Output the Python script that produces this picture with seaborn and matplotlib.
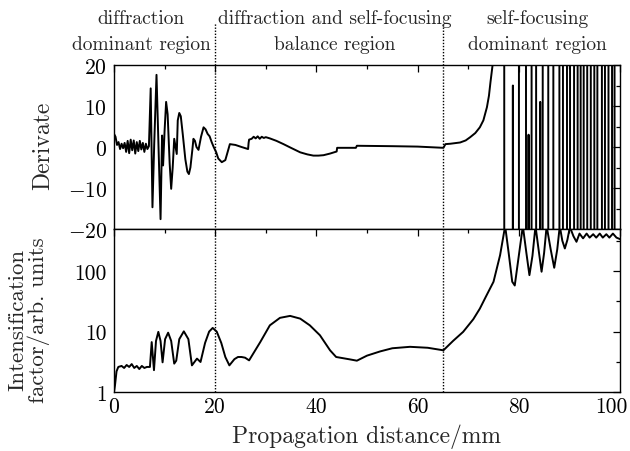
import numpy as np
import pandas as pd
import matplotlib
matplotlib.use("Agg")
import matplotlib.pyplot as plt
import matplotlib.ticker as mticker
import matplotlib.transforms as mtrans
import seaborn as sns

# ---------------- data ----------------
# Derivative of intensification factor (top panel); +/-200 = off scale
deriv_x = [0.0, 0.3, 0.6, 0.9, 1.2, 1.5, 1.8, 2.1, 2.4, 2.7, 3.0, 3.3, 3.6, 3.9, 4.2,
           4.5, 4.8, 5.1, 5.4, 5.7, 6.0, 6.3, 6.6, 6.9,
           7.25, 7.6, 7.95, 8.4, 9.2, 9.5, 9.7, 10.0, 10.3, 10.6, 11.0, 11.3, 11.6, 11.9,
           12.4, 12.6, 12.9, 13.2, 13.6, 14.1, 14.5, 14.8, 15.1, 15.5, 15.7, 16.0, 16.3,
           16.7, 17.2, 17.7, 18.1, 18.5, 18.9, 19.3, 19.7, 20.2, 20.6, 21.3, 22.0, 22.5,
           22.9, 24.0, 25.2, 26.5, 26.6, 26.7, 27.2, 27.6, 28.0, 28.4, 28.8, 29.2, 29.6,
           30.0, 30.8, 32.1, 33.5, 34.8, 36.8, 38.2, 39.4, 40.4, 41.4, 42.7, 44.0, 44.1,
           47.8, 48.0, 55.0, 60.0, 65.1, 65.5, 66.5, 68.4, 69.5, 70.4, 71.4, 72.3, 73.0,
           73.7, 74.1, 74.4, 74.8, 75.1, 75.6,
           77.10, 77.15, 78.80, 78.83, 78.86, 80.00, 80.05, 81.40, 81.45, 81.90, 81.93, 81.96,
           82.50, 82.55, 83.40, 83.45, 84.20, 84.23, 84.26, 84.70, 84.75, 85.80, 85.85,
           86.80, 86.85, 88.00, 88.05, 88.70, 88.75, 89.50, 89.55, 90.10, 90.15, 90.90, 90.95,
           91.60, 91.65, 92.20, 92.25, 92.80, 92.85, 93.50, 93.55, 94.20, 94.25, 94.90, 94.95,
           95.50, 95.55, 96.40, 96.45, 97.00, 97.05, 97.70, 97.75, 98.40, 98.45, 98.90, 98.95,
           100.0]
deriv_y = [3.2, 2.5, 0.5, 1.2, -0.5, 0.8, -0.3, 1.0, -1.2, 1.5, -1.5, 1.8, -0.8, 1.6, -1.6,
           1.2, -1.0, 1.5, -0.6, 1.0, -1.2, 0.8, -0.5, 0.2,
           14.3, -14.7, 0.8, 17.6, -17.6, 2.8, -4.5, 4.0, 11.0, 8.0, -4.0, -10.2, -5.0, 2.0,
           -1.7, 6.5, 8.3, 7.5, 3.0, -3.0, -6.0, -6.6, -5.0, -0.5, 2.0, 1.5, 0.0,
           -0.7, 2.5, 4.8, 4.3, 3.2, 2.6, 1.2, 0.0, -1.3, -2.8, -3.7, -3.2, -1.0,
           0.7, 0.5, 0.0, -0.5, 1.0, 1.8, 2.0, 2.5, 2.1, 2.6, 2.0, 2.5, 2.2,
           2.4, 2.1, 1.5, 0.7, -0.1, -1.3, -1.8, -2.1, -2.1, -2.0, -1.6, -1.1, -0.2,
           -0.2, 0.3, 0.2, 0.1, -0.2, 0.7, 0.8, 1.1, 1.6, 2.4, 3.4, 4.8, 6.5,
           9.7, 12.5, 15.8, 19.8, 26.0, 60.0,
           200, -200, -200, 15, -200, -200, 200, 200, -200, -200, 3, -200,
           -200, 200, 200, -200, -200, 11, -200, -200, 200, 200, -200,
           -200, 200, 200, -200, -200, 200, 200, -200, -200, 200, 200, -200,
           -200, 200, 200, -200, -200, 200, 200, -200, -200, 200, 200, -200,
           -200, 200, 200, -200, -200, 200, 200, -200, -200, 200, 200, -200,
           -200]

# Intensification factor (bottom panel, log scale)
inten_x = [0.0, 0.2, 0.5, 0.85, 1.5, 2.0, 2.5, 3.0, 3.5, 4.0, 4.5, 5.0, 5.5, 6.0, 6.5, 7.1,
           7.45, 7.9, 8.3, 8.76, 9.2, 9.6, 10.1, 10.7, 11.3, 11.9, 12.3, 12.9, 13.8, 14.7,
           15.4, 16.4, 17.1, 18.0, 18.8, 19.5, 20.3, 21.2, 22.0, 22.8, 23.8, 24.5, 25.2,
           25.9, 26.7, 28.9, 30.8, 32.8, 34.8, 36.8, 38.7, 40.7, 42.7, 43.9, 46.6, 48.0,
           50.0, 52.6, 55.0, 58.5, 62.0, 65.1, 67.0, 69.0, 71.0, 72.3, 73.5, 75.0, 76.3,
           77.3, 78.0, 78.7, 79.2, 80.0, 80.8, 81.5, 82.1, 82.7, 83.3, 84.0, 84.5, 85.0,
           85.5, 86.3, 87.0, 87.6, 88.1, 88.6, 89.1, 89.6, 90.1, 90.8, 91.4, 92.0, 92.7,
           93.4, 94.0, 94.7, 95.3, 96.0, 96.6, 97.3, 97.9, 98.6, 99.3, 100.0]
inten_y = [1.0, 1.3, 2.2, 2.6, 2.7, 2.5, 2.8, 2.6, 2.9, 2.5, 2.7, 2.4, 2.7, 2.5, 2.6, 2.6,
           6.7, 2.3, 7.0, 9.9, 7.0, 3.1, 7.5, 9.6, 7.0, 2.95, 3.3, 7.5, 10.1, 7.5,
           2.76, 3.57, 3.14, 6.5, 10.0, 11.5, 10.0, 6.5, 3.8, 2.76, 3.5, 3.8, 3.8,
           3.7, 3.34, 6.7, 12.7, 16.9, 18.2, 16.4, 12.7, 8.7, 4.9, 3.8, 3.47, 3.3,
           4.0, 4.7, 5.3, 5.6, 5.4, 4.9, 7.0, 9.9, 16.0, 24.0, 38.0, 66.8, 184.0,
           560.0, 200.0, 67.0, 58.0, 180.0, 560.0, 200.0, 86.0, 180.0, 560.0, 200.0, 98.0, 200.0,
           560.0, 230.0, 114.0, 230.0, 560.0, 320.0, 238.0, 330.0, 540.0, 380.0, 307.0, 420.0, 350.0,
           420.0, 360.0, 410.0, 360.0, 420.0, 360.0, 410.0, 360.0, 420.0, 360.0, 340.0]

region_lines = [20, 65]
region_texts = ["diffraction\ndominant region",
                "diffraction and self-focusing\nbalance region",
                "self-focusing\ndominant region"]
region_text_x = [5.4, 43.6, 83.6]

deriv_ticks = [-20, -10, 0, 10, 20]
inten_ticks = [1, 10, 100]
inten_ticklabels = ["1", "10", "100"]
x_ticks = [0, 20, 40, 60, 80, 100]

# ---------------- style ----------------
sns.set_theme(style="white")
plt.rcParams.update({
    "font.family": "serif",
    "font.serif": ["cmr10", "DejaVu Serif"],
    "mathtext.fontset": "cm",
    "axes.formatter.use_mathtext": True,
    "axes.unicode_minus": True,
    "font.size": 15,
    "axes.edgecolor": "black",
    "axes.linewidth": 1.0,
    "xtick.direction": "in",
    "ytick.direction": "in",
    "xtick.top": True,
    "ytick.right": True,
    "xtick.color": "black",
    "ytick.color": "black",
})

W, H = 630, 452
fig = plt.figure(figsize=(W / 100, H / 100), dpi=100)
left, right = 114 / W, 620 / W
top_y, mid_y, bot_y = 1 - 66 / H, 1 - 230 / H, 1 - 393 / H
ax1 = fig.add_axes([left, mid_y, right - left, top_y - mid_y])
ax2 = fig.add_axes([left, bot_y, right - left, mid_y - bot_y], sharex=ax1)

d1 = pd.DataFrame({"x": deriv_x, "y": deriv_y})
d2 = pd.DataFrame({"x": inten_x, "y": inten_y})
sns.lineplot(data=d1, x="x", y="y", ax=ax1, color="black", lw=1.4,
             sort=False, estimator=None)
sns.lineplot(data=d2, x="x", y="y", ax=ax2, color="black", lw=1.4,
             sort=False, estimator=None)

ax1.set_xlim(0, 100)
ax1.set_ylim(-20, 20)
ax1.set_yticks(deriv_ticks)
ax1.yaxis.set_minor_locator(mticker.MultipleLocator(5))
ax1.xaxis.set_major_locator(mticker.FixedLocator(x_ticks))
ax1.xaxis.set_minor_locator(mticker.MultipleLocator(10))
plt.setp(ax1.get_xticklabels(), visible=False)
ax1.set_xlabel("")
ax1.set_ylabel("")

ax2.set_yscale("log")
ax2.set_ylim(1, 500)
ax2.yaxis.set_major_locator(mticker.FixedLocator(inten_ticks))
ax2.yaxis.set_major_formatter(mticker.FixedFormatter(inten_ticklabels))
ax2.yaxis.set_minor_locator(mticker.FixedLocator([10 ** 0.5, 10 ** 1.5, 10 ** 2.5]))
ax2.yaxis.set_minor_formatter(mticker.NullFormatter())
ax2.set_xticks(x_ticks)
ax2.set_xticklabels([str(v) for v in x_ticks])
ax2.set_xlabel("")
ax2.set_ylabel("")

for ax in (ax1, ax2):
    ax.tick_params(which="major", length=5, width=0.9, labelsize=15.5, pad=3)
    ax.tick_params(which="minor", length=3, width=0.9)
    ax.tick_params(axis="y", which="major", pad=5)
    for s in ax.spines.values():
        s.set_color("black")
        s.set_linewidth(1.0)

# keep the last x tick label inside the figure
fig.canvas.draw()
last = ax2.get_xticklabels()[-1]
last.set_transform(last.get_transform() +
                   mtrans.ScaledTranslation(-9 / 100, 0, fig.dpi_scale_trans))

# dotted region boundaries spanning both panels up into the header
trans = mtrans.blended_transform_factory(ax2.transData, fig.transFigure)
for xv in region_lines:
    fig.add_artist(plt.Line2D([xv, xv], [bot_y, 1 - 24 / H], transform=trans,
                              color="black", lw=1.0, ls=(0, (1, 1.2))))

for tx, t in zip(region_text_x, region_texts):
    fig.text(tx, 1 - 32 / H, t, transform=trans, ha="center", va="center",
             fontsize=14, multialignment="center", linespacing=1.55)

fig.text(43 / W, 1 - 146 / H, "Derivate", rotation=90, ha="center",
         va="center", fontsize=17)
fig.text(29 / W, 1 - 320 / H, "Intensification\nfactor/arb. units", rotation=90,
         ha="center", va="center", fontsize=16.5, multialignment="center",
         linespacing=1.05)
fig.text((left + right) / 2, 1 - 437 / H, "Propagation distance/mm",
         ha="center", va="center", fontsize=17)

fig.savefig("out.png", dpi=100)
